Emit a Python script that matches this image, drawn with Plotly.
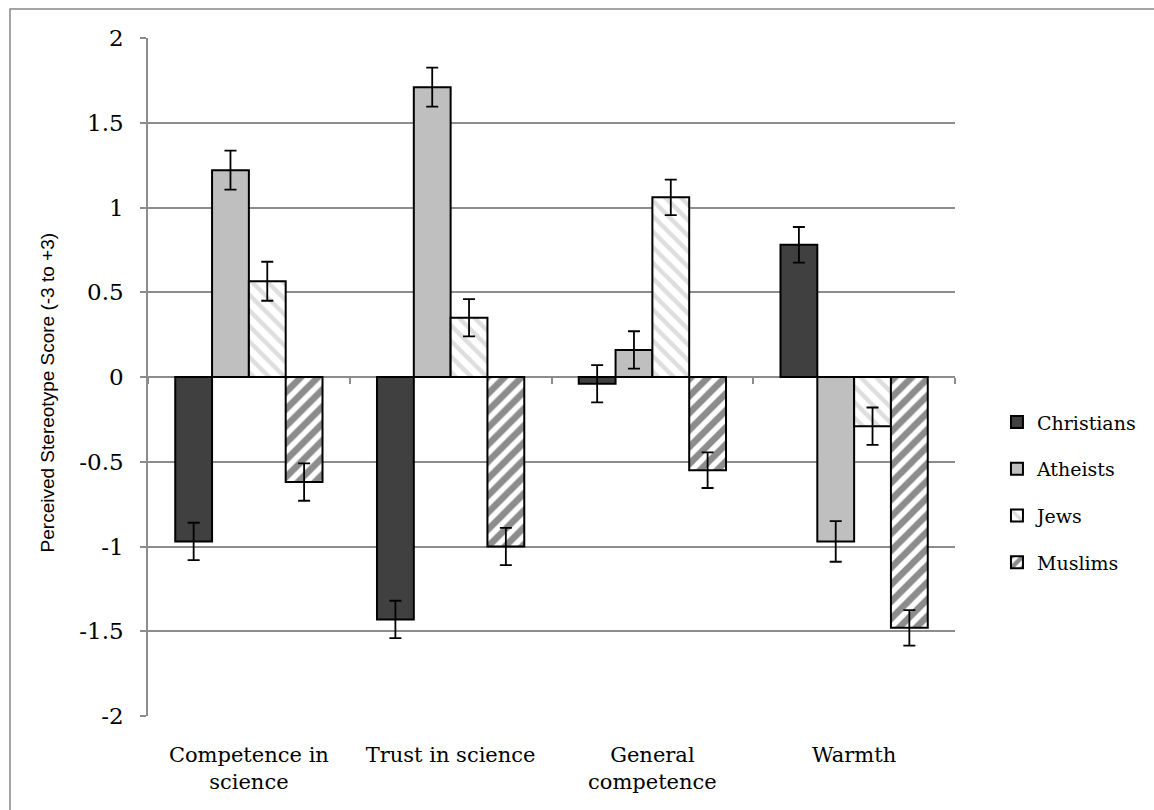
import plotly.graph_objects as go

categories = ["Competence in<br>science", "Trust in science", "General<br>competence", "Warmth"]
christians = [-0.97, -1.43, -0.04, 0.78]
christians_err = [0.11, 0.11, 0.11, 0.105]
atheists = [1.22, 1.71, 0.16, -0.97]
atheists_err = [0.115, 0.115, 0.11, 0.12]
jews = [0.565, 0.35, 1.06, -0.29]
jews_err = [0.115, 0.11, 0.105, 0.11]
muslims = [-0.62, -1.0, -0.55, -1.48]
muslims_err = [0.11, 0.11, 0.105, 0.105]
y_ticks = [2, 1.5, 1, 0.5, 0, -0.5, -1, -1.5, -2]
y_tick_labels = ["2", "1.5", "1", "0.5", "0", "-0.5", "-1", "-1.5", "-2"]
y_title = "Perceived Stereotype Score (-3 to +3)"

GRID = "#8c8c8c"

def err(vals):
    return dict(type="data", array=vals, visible=True, color="black", thickness=1.8, width=6)

fig = go.Figure()
fig.add_trace(go.Bar(name="Christians", x=categories, y=christians, error_y=err(christians_err),
                     marker=dict(color="#404040", line=dict(color="black", width=2)),
                     legendgroup="c"))
fig.add_trace(go.Bar(name="Atheists", x=categories, y=atheists, error_y=err(atheists_err),
                     marker=dict(color="#bfbfbf", line=dict(color="black", width=2)),
                     legendgroup="a"))
fig.add_trace(go.Bar(name="Jews", x=categories, y=jews, error_y=err(jews_err),
                     marker=dict(color="white", line=dict(color="black", width=2),
                                 pattern=dict(shape="\\", fgcolor="#bdbdbd", bgcolor="white",
                                              size=11, solidity=0.4)),
                     legendgroup="j"))
fig.add_trace(go.Bar(name="Muslims", x=categories, y=muslims, error_y=err(muslims_err),
                     marker=dict(color="white", line=dict(color="black", width=2),
                                 pattern=dict(shape="/", fgcolor="#1a1a1a", bgcolor="white",
                                              size=12, solidity=0.55)),
                     legendgroup="m"))
# invisible helper trace for the category boundary ticks on the zero line
fig.add_trace(go.Scatter(x=categories, y=[0] * len(categories), xaxis="x2", mode="markers",
                         marker=dict(opacity=0), showlegend=False, hoverinfo="skip"))

fig.update_layout(
    width=1154, height=810,
    margin=dict(l=148, r=199, t=38, b=94, autoexpand=False),
    paper_bgcolor="white", plot_bgcolor="white",
    barmode="group", bargap=0.27, bargroupgap=0,
    font=dict(family="DejaVu Serif", color="black", size=18),
    xaxis=dict(type="category", categoryorder="array", categoryarray=categories,
               range=[-0.5, 3.5], showline=False, showgrid=False, ticks="",
               tickfont=dict(family="DejaVu Serif", size=21, color="black"),
               ticklabelstandoff=24),
    xaxis2=dict(type="category", categoryorder="array", categoryarray=categories,
                range=[-0.5, 3.5], overlaying="x", anchor="free", position=0.5, side="bottom",
                showline=False, showgrid=False, showticklabels=False,
                ticks="outside", tickson="boundaries", ticklen=6, tickcolor=GRID, tickwidth=1.5),
    yaxis=dict(range=[-2, 2], tickvals=y_ticks, ticktext=y_tick_labels,
               showgrid=True, gridcolor=GRID, gridwidth=1.5,
               zeroline=True, zerolinecolor=GRID, zerolinewidth=2,
               showline=True, linecolor=GRID, linewidth=1.5,
               ticks="outside", ticklen=6, tickcolor=GRID, tickwidth=1.5,
               tickfont=dict(family="DejaVu Serif", size=23, color="black"),
               ticklabelstandoff=12),
    legend=dict(x=1.052, y=0.33, xanchor="left", yanchor="middle",
                font=dict(family="DejaVu Serif", size=19, color="black"),
                traceorder="grouped", tracegroupgap=19, itemwidth=30,
                bgcolor="rgba(0,0,0,0)"),
    annotations=[dict(text=y_title, xref="paper", yref="paper", x=-0.125, y=0.476,
                      xanchor="center", yanchor="middle", textangle=-90, showarrow=False,
                      font=dict(family="Liberation Sans", size=19, color="black"))],
    shapes=[dict(type="rect", xref="paper", yref="paper",
                 x0=-0.171, x1=1.4, y0=-0.3, y1=1.0428,
                 line=dict(color="#888888", width=1.5), layer="below")],
)

fig.write_html("out.html")
